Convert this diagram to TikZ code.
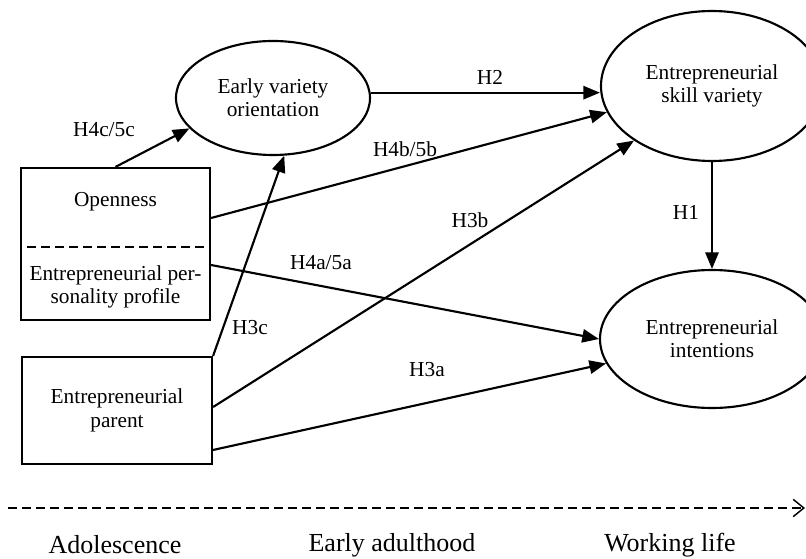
\documentclass[tikz,border=0pt]{standalone}
\usepackage{fontspec}
\setmainfont{Liberation Serif}
\usetikzlibrary{arrows.meta,shapes.geometric}
\begin{document}
\begin{tikzpicture}[x=0.75pt,y=-0.75pt,
  every node/.style={font=\fontsize{16}{17.5}\selectfont},
  ell/.style={draw,ellipse,line width=1.6pt,inner sep=0pt,align=center},
  box/.style={draw,rectangle,line width=1.6pt,inner sep=0pt,align=center},
  lbl/.style={inner sep=0pt},
  txt/.style={align=center,inner sep=0pt},
  arr/.style={line width=1.6pt,-{Triangle[length=12.5pt,width=10pt]}},
  sep/.style={line width=1.6pt,dash pattern=on 7pt off 3.5pt},
  timeline/.style={line width=1.1pt,dash pattern=on 6.5pt off 4pt,-{Straight Barb[length=8pt,width=13pt,line width=1.1pt]}},
  era/.style={font=\fontsize{19.5}{22}\selectfont,inner sep=0pt}
]
\clip (0,0) rectangle (806,559);

% ellipses
\node[ell,minimum width=145.5pt,minimum height=85.5pt] (early) at (273,98) {Early variety\\orientation};
\node[ell,minimum width=166.5pt,minimum height=112.5pt] (skill) at (712,86) {Entrepreneurial\\skill variety};
\node[ell,minimum width=168pt,minimum height=103.5pt] (intent) at (712,339) {Entrepreneurial\\intentions};

% boxes
\node[box,minimum width=141.75pt,minimum height=114pt] (open) at (115.5,244) {};
\node[txt] (opentxt) at (115.5,202) {Openness};
\node[txt] (persontxt) at (115.5,287) {Entrepreneurial per-\\sonality profile};
\draw[sep] (27,247) -- (206,247);
\node[box,minimum width=142.5pt,minimum height=80.25pt] (parent) at (117,410.5) {Entrepreneurial\\parent};

% connectors
\draw[arr] (open.north) -- (early.200);
\draw[arr] ([yshift=4pt]early.east) -- ([yshift=4pt]early.east -| skill.west);
\draw[arr] ([yshift=19.5pt]open.east) -- (skill.194);
\draw[arr] ([yshift=-15.75pt]open.east) -- (intent.180);
\draw[arr] (parent.north east) -- (early.281);
\draw[arr] ([yshift=2.6pt]parent.east) -- (skill.215);
\draw[arr] ([yshift=-29.6pt]parent.east) -- (intent.193);
\draw[arr] (skill.south) -- (intent.north);

% labels
\node[lbl] (lH4c) at (104,130) {H4c/5c};
\node[lbl] (lH2) at (490,77) {H2};
\node[lbl] (lH4b) at (405,149) {H4b/5b};
\node[lbl] (lH3b) at (470,220) {H3b};
\node[lbl] (lH3c) at (250,328) {H3c};
\node[lbl] (lH4a) at (321,263) {H4a/5a};
\node[lbl] (lH3a) at (427,370) {H3a};
\node[lbl] (lH1) at (686,212) {H1};

% timeline
\coordinate (tls) at (8,508);
\coordinate (tle) at (805,508);
\draw[timeline] (tls) -- (tle);
\node[era] (adol) at (115,545) {Adolescence};
\node[era] (early-ad) at (392,545) {Early adulthood};
\node[era] (work) at (670,545) {Working life};
\end{tikzpicture}
\end{document}
